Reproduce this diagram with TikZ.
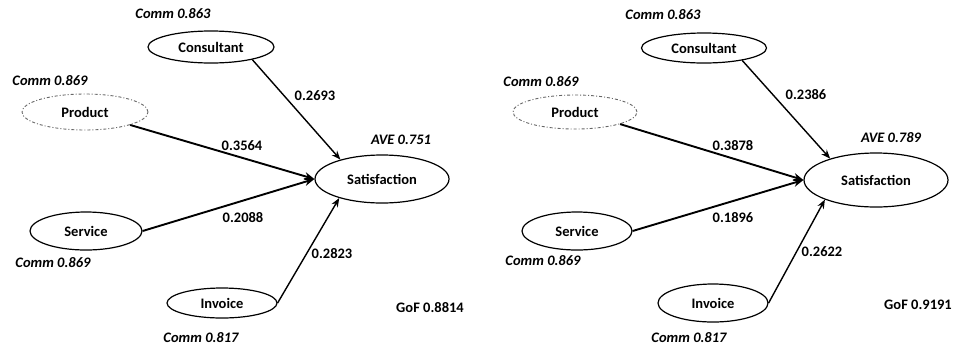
\documentclass[tikz,border=0pt]{standalone}
\usepackage{fontspec}
\setmainfont{Carlito}
\usetikzlibrary{shapes.geometric,arrows.meta}
\begin{document}
\begin{tikzpicture}[x=1pt,y=-1pt,
  lv/.style={ellipse,draw,line width=1.2pt,inner sep=0pt,font=\fontsize{14.5}{16}\selectfont\bfseries},
  lvdash/.style={lv,draw=black!60,dash pattern=on 3pt off 2pt on 1pt off 2pt,line width=0.9pt},
  lab/.style={inner sep=0pt,font=\fontsize{14.5}{16}\selectfont\bfseries},
  comm/.style={inner sep=0pt,font=\fontsize{14.5}{16}\selectfont\bfseries\itshape},
  thin/.style={line width=1.4pt,-{Stealth[length=9pt,width=7pt]}},
  thick/.style={line width=1.9pt,-{Stealth[length=10pt,width=8pt]}}]
\useasboundingbox (0,0) rectangle (955,349);
% ---------------- left panel ----------------
\node[lv,minimum width=126pt,minimum height=32pt] (cL) at (211,47) {Consultant};
\node[lvdash,minimum width=126pt,minimum height=36pt] (pL) at (85,112) {Product};
\node[lv,minimum width=134pt,minimum height=48pt] (sL) at (382,179) {Satisfaction};
\node[lv,minimum width=112pt,minimum height=38pt] (vL) at (86,231) {Service};
\node[lv,minimum width=110pt,minimum height=30pt] (iL) at (222,303) {Invoice};
\node[comm] (cLc) at (173,14) {Comm 0.863};
\node[comm] (pLc) at (50,81) {Comm 0.869};
\node[comm] (sLa) at (401,140) {AVE 0.751};
\node[comm] (vLc) at (53,263) {Comm 0.869};
\node[comm] (iLc) at (201,338) {Comm 0.817};
\node[lab] (gL) at (430,308) {GoF 0.8814};
\draw[thin] (cL.-17) -- (sL.155);
\draw[thick] (pL.-16) -- (sL.180);
\draw[thick] (vL.east) -- (sL.180);
\draw[thin] (iL.east) -- (sL.-156);
\node[lab] (wL1) at (315,96) {0.2693};
\node[lab] (wL2) at (242,146) {0.3564};
\node[lab] (wL3) at (243,218) {0.2088};
\node[lab] (wL4) at (332,254) {0.2823};
% ---------------- right panel ----------------
\node[lv,minimum width=125pt,minimum height=30pt] (cR) at (704,48) {Consultant};
\node[lvdash,minimum width=124pt,minimum height=34pt] (pR) at (575,112) {Product};
\node[lv,minimum width=144pt,minimum height=54pt] (sR) at (876,180) {Satisfaction};
\node[lv,minimum width=110pt,minimum height=38pt] (vR) at (577,231) {Service};
\node[lv,minimum width=110pt,minimum height=38pt] (iR) at (713,303) {Invoice};
\node[comm] (cRc) at (663,15) {Comm 0.863};
\node[comm] (pRc) at (541,82) {Comm 0.869};
\node[comm] (sRa) at (891,138) {AVE 0.789};
\node[comm] (vRc) at (543,261) {Comm 0.869};
\node[comm] (iRc) at (689,338) {Comm 0.817};
\node[lab] (gR) at (918,305) {GoF 0.9191};
\draw[thin] (cR.-18) -- (sR.155);
\draw[thick] (pR.-15) -- (sR.180);
\draw[thick] (vR.east) -- (sR.180);
\draw[thin] (iR.east) -- (sR.-159);
\node[lab] (wR1) at (806,95) {0.2386};
\node[lab] (wR2) at (733,146) {0.3878};
\node[lab] (wR3) at (733,218) {0.1896};
\node[lab] (wR4) at (822,252) {0.2622};
\end{tikzpicture}
\end{document}
